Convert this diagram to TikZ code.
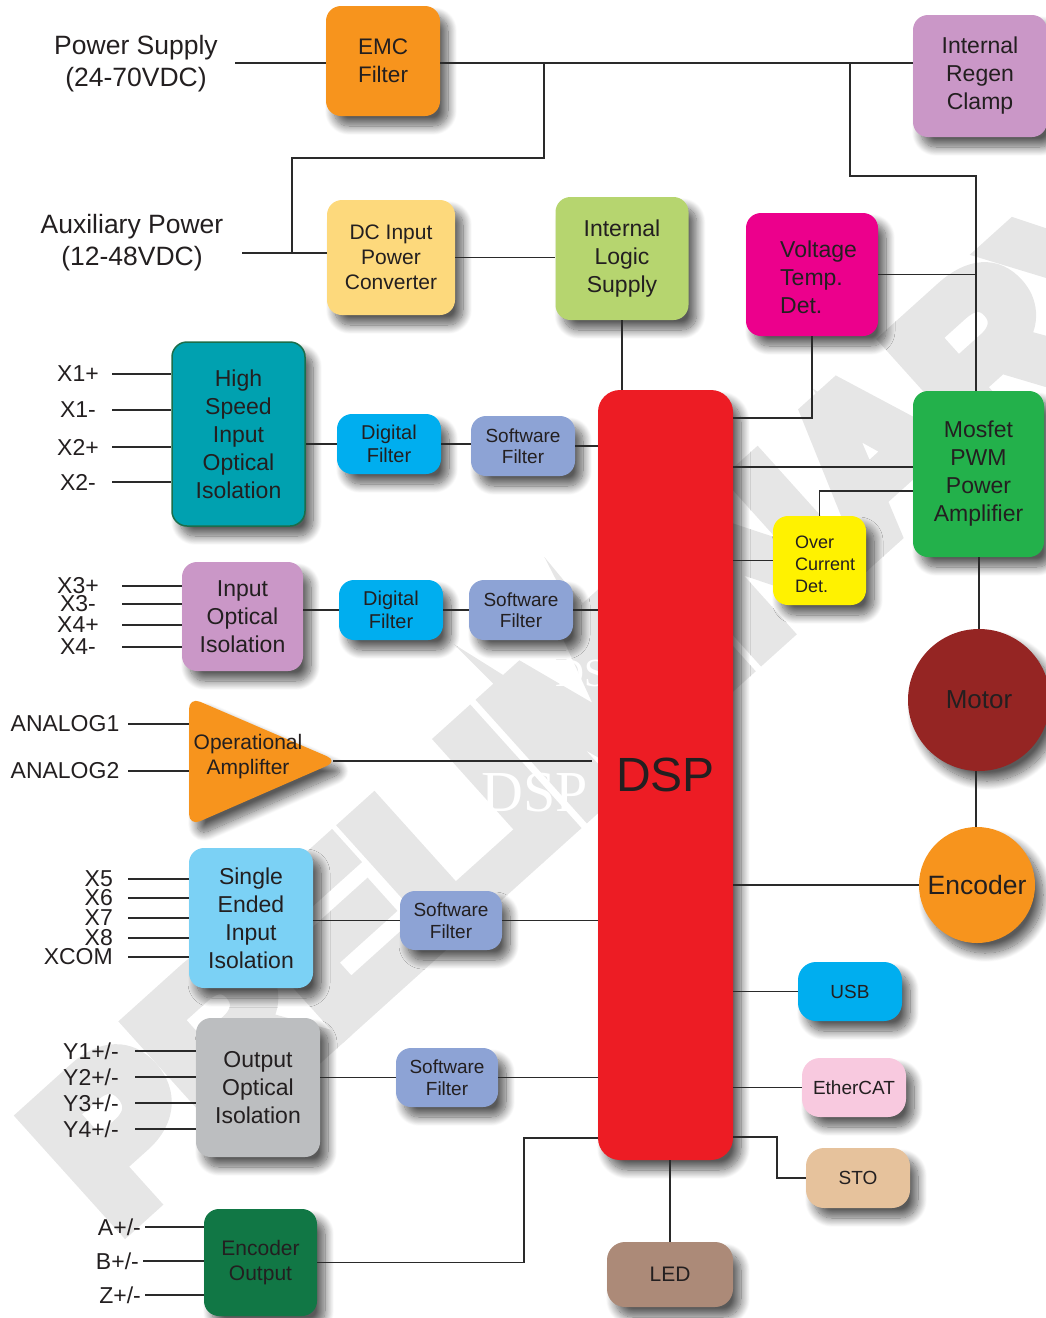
\documentclass[tikz,border=0pt]{standalone}
\usepackage{fontspec}
\setmainfont{Liberation Sans}
\newfontfamily\wmfont{Liberation Serif}
\newfontfamily\wmheavy[FakeBold=10]{Liberation Sans Bold}
\usetikzlibrary{shapes.geometric,shadows.blur}
\definecolor{txt}{HTML}{231F20}
\definecolor{wirec}{HTML}{2A2A2A}
\definecolor{cOrange}{HTML}{F7941D}
\definecolor{cLav}{HTML}{CA97C7}
\definecolor{cDCin}{HTML}{FDD97C}
\definecolor{cLogic}{HTML}{B6D56F}
\definecolor{cMag}{HTML}{EC008C}
\definecolor{cTeal}{HTML}{00A1B0}
\definecolor{cTealB}{HTML}{1B6E4B}
\definecolor{cCyan}{HTML}{00AEEF}
\definecolor{cSoft}{HTML}{8DA3D5}
\definecolor{cRed}{HTML}{ED1C24}
\definecolor{cGreen}{HTML}{23B14B}
\definecolor{cYellow}{HTML}{FFF200}
\definecolor{cMotor}{HTML}{952523}
\definecolor{cSky}{HTML}{7BD1F5}
\definecolor{cPink}{HTML}{F8C9DF}
\definecolor{cGray}{HTML}{BCBEC0}
\definecolor{cTan}{HTML}{E6C29C}
\definecolor{cDkGreen}{HTML}{117745}
\definecolor{cLED}{HTML}{AC8A78}
\definecolor{wm}{HTML}{E6E6E6}
\tikzset{
  shd/.style={blur shadow={shadow xshift=8pt, shadow yshift=-10pt, shadow blur radius=9pt, shadow blur steps=16, shadow opacity=65}},
  box/.style={rectangle, rounded corners=15pt, align=center, text=txt, inner sep=0pt, shd},
  circ/.style={circle, align=center, text=txt, inner sep=0pt, shd},
  wire/.style={draw=wirec, line width=1.8pt},
  lbl/.style={text=txt, inner sep=0pt, font=\fontsize{23}{28}\selectfont},
  t23/.style={font=\fontsize{23}{28}\selectfont},
  t22/.style={font=\fontsize{22.5}{28}\selectfont},
  t21/.style={font=\fontsize{21}{25}\selectfont},
  t20/.style={font=\fontsize{20}{23}\selectfont},
  t19/.style={font=\fontsize{19}{21.5}\selectfont},
  t18/.style={font=\fontsize{18}{22}\selectfont},
  big/.style={font=\fontsize{26.5}{32}\selectfont}
}
\begin{document}
\begin{tikzpicture}[x=1pt,y=-1pt]
\useasboundingbox (0,0) rectangle (1046,1318);
% watermark
\node[rotate=42, text=wm, inner sep=0pt, font=\wmheavy\fontsize{211}{211}\selectfont] (wmark) at (604,696) {PRELIMINARY};
\node[text=white, inner sep=0pt, font=\wmfont\fontsize{40}{40}\selectfont] (wmdsp1) at (592,673) {DSP};
\node[text=white, inner sep=0pt, font=\wmfont\fontsize{58}{58}\selectfont] (wmdsp2) at (535,793) {DSP};

% power labels
\node[text=txt, align=center, big] (ps) at (136,64) {Power Supply\\(24-70VDC)};
\node[text=txt, align=center, big] (aux) at (132,243) {Auxiliary Power\\(12-48VDC)};

% boxes
\node[box, t22, fill=cOrange, minimum width=114pt, minimum height=110pt] (emc) at (383,61) {EMC\\Filter};
\node[box, t23, fill=cLav, minimum width=134pt, minimum height=122pt] (regen) at (980,76) {Internal\\Regen\\Clamp};
\node[box, t21, fill=cDCin, minimum width=128pt, minimum height=115pt] (dcin) at (391,257.5) {DC Input\\Power\\Converter};
\node[box, t23, fill=cLogic, minimum width=133pt, minimum height=123pt] (logic) at (622,258.5) {Internal\\Logic\\Supply};
\node[box, fill=cMag, minimum width=132pt, minimum height=123pt] (volt) at (812,274.5) {};
\node[text=txt, t23, align=left, anchor=west, inner sep=0pt] (voltt) at (780,277) {Voltage\\Temp.\\Det.};
\node[box, t23, fill=cTeal, draw=cTealB, line width=1.5pt, minimum width=133pt, minimum height=184pt] (hs) at (238.5,434) {High\\Speed\\Input\\Optical\\Isolation};
\node[box, t20, fill=cCyan, minimum width=104pt, minimum height=60pt] (df1) at (389,444) {Digital\\Filter};
\node[box, t19, fill=cSoft, minimum width=104pt, minimum height=60pt] (sf1) at (523,446) {Software\\Filter};
\node[box, rounded corners=22pt, fill=cRed, minimum width=135pt, minimum height=770pt, font=\fontsize{48}{48}\selectfont] (dsp) at (665.5,775) {DSP};
\node[box, t23, fill=cGreen, minimum width=131pt, minimum height=166pt] (mosfet) at (978.5,474) {Mosfet\\PWM\\Power\\Amplifier};
\node[box, fill=cYellow, minimum width=93pt, minimum height=89pt] (oc) at (819.5,560.5) {};
\node[text=txt, t18, align=left, anchor=west, inner sep=0pt] (oct) at (795,564) {Over\\Current\\Det.};
\node[box, t23, fill=cLav, minimum width=121pt, minimum height=109pt] (iois) at (242.5,616.5) {Input\\Optical\\Isolation};
\node[box, t20, fill=cCyan, minimum width=104pt, minimum height=60pt] (df2) at (391,610) {Digital\\Filter};
\node[box, t19, fill=cSoft, minimum width=104pt, minimum height=60pt] (sf2) at (521,610) {Software\\Filter};
\node[circ, fill=cMotor, minimum size=142pt, font=\fontsize{26}{30}\selectfont] (motor) at (979,700) {Motor};
% operational amplifier triangle
\path[fill=cOrange, rounded corners=12pt, shd] (189,697) -- (338,761) -- (189,826) -- cycle;
\coordinate (opamp) at (333,761);
\node[text=txt, t21, align=center, inner sep=0pt] (opampt) at (248,757) {Operational\\Amplifter};
\node[circ, fill=cOrange, minimum size=116pt, font=\fontsize{26.5}{30}\selectfont] (encoder) at (977,885) {Encoder};
\node[box, t23, fill=cSky, minimum width=124pt, minimum height=140pt] (seii) at (251,918) {Single\\Ended\\Input\\Isolation};
\node[box, t19, fill=cSoft, minimum width=102pt, minimum height=59pt] (sf3) at (451,920.5) {Software\\Filter};
\node[box, rounded corners=18pt, t19, fill=cCyan, minimum width=104pt, minimum height=59pt] (usb) at (850,991.5) {USB};
\node[box, rounded corners=18pt, t19, fill=cPink, minimum width=104pt, minimum height=59pt] (ecat) at (854,1087.5) {EtherCAT};
\node[box, t23, fill=cGray, minimum width=124pt, minimum height=139pt] (ooi) at (258,1087.5) {Output\\Optical\\Isolation};
\node[box, t19, fill=cSoft, minimum width=102pt, minimum height=59pt] (sf4) at (447,1077.5) {Software\\Filter};
\node[box, rounded corners=18pt, t19, fill=cTan, minimum width=104pt, minimum height=60pt] (sto) at (858,1178) {STO};
\node[box, t21, fill=cDkGreen, minimum width=113pt, minimum height=107pt] (encout) at (260.5,1262.5) {Encoder\\Output};
\node[box, rounded corners=18pt, font=\fontsize{21}{25}\selectfont, fill=cLED, minimum width=126pt, minimum height=65pt] (led) at (670,1274.5) {LED};

% input labels and wires
\foreach \n/\t/\y in {x1p/X1+/374, x1m/X1-/410, x2p/X2+/447, x2m/X2-/482}{
  \node[lbl] (\n) at (78,\y) {\t};
  \coordinate (\n-e) at (112,\y);
  \draw[wire] (\n-e) -- (hs.west |- \n-e);
}
\foreach \n/\t/\y in {x3p/X3+/586, x3m/X3-/604, x4p/X4+/625, x4m/X4-/647}{
  \node[lbl] (\n) at (78,\y) {\t};
  \coordinate (\n-e) at (122,\y);
  \draw[wire] (\n-e) -- (iois.west |- \n-e);
}
\foreach \n/\t/\y in {an1/ANALOG1/724, an2/ANALOG2/771}{
  \node[lbl] (\n) at (65,\y) {\t};
  \coordinate (\n-e) at (128,\y);
  \draw[wire] (\n-e) -- (189,\y);
}
\foreach \n/\t/\y in {x5/X5/879, x6/X6/898, x7/X7/918, x8/X8/938, xc/XCOM/957}{
  \node[lbl, anchor=east] (\n) at (113,\y) {\t};
  \coordinate (\n-e) at (128,\y);
  \draw[wire] (\n-e) -- (seii.west |- \n-e);
}
\foreach \n/\t/\y in {y1/1/1051, y2/2/1077, y3/3/1103, y4/4/1129}{
  \node[lbl, anchor=east] (\n) at (119,\y) {Y\t+/-};
  \coordinate (\n-e) at (135,\y);
  \draw[wire] (\n-e) -- (ooi.west |- \n-e);
}
\foreach \n/\t/\y/\s in {ea/A/1227/145, eb/B/1261/143, ez/Z/1295/145}{
  \node[lbl, anchor=east] (\n) at (\s-4,\y) {\t+/-};
  \coordinate (\n-e) at (\s,\y);
  \draw[wire] (\n-e) -- (encout.west |- \n-e);
}

% power wiring
\coordinate (psl) at (235,63);
\coordinate (auxl) at (242,253);
\coordinate (j1) at (544,63);
\coordinate (j2) at (292,158);
\coordinate (j3) at (850,63);
\coordinate (j4) at (976,176);
\draw[wire] (psl) -- (emc.west |- psl);
\draw[wire] (emc.east |- psl) -- (regen.west |- psl);
\draw[wire] (j1) |- (j2) -- (j2 |- auxl);
\draw[wire] (auxl) -- (dcin.west |- auxl);
\draw[wire] (j3) |- (j4) -- (j4 |- mosfet.north);
\draw[wire] (volt.east) -- (volt.east -| j4);
\draw[wire] (dcin.east) -- (logic.west |- dcin.east);
\draw[wire] (logic.south) -- (logic.south |- dsp.north);
\draw[wire] (volt.south) |- (dsp.east |- 0,418);
\draw[wire] (dsp.east |- 0,467) -- (mosfet.west |- 0,467);
\draw[wire] (mosfet.west |- 0,491) -| (oc.north);
\draw[wire] (oc.west) -- (dsp.east |- oc.west);
\draw[wire] (mosfet.south -| motor.north) -- (motor.north);
\draw[wire] (motor.south -| 976,0) -- (encoder.north -| 976,0);
\draw[wire] (encoder.west) -- (dsp.east |- encoder.west);
\draw[wire] (usb.west) -- (dsp.east |- usb.west);
\draw[wire] (ecat.west) -- (dsp.east |- ecat.west);
\coordinate (stoj) at (777,1137);
\draw[wire] (dsp.east |- stoj) -| (stoj |- sto.west) -- (sto.west);
\draw[wire] (dsp.south -| led.north) -- (led.north);
\coordinate (eoj) at (524,1138);
\draw[wire] (encout.east) -| (eoj) -- (dsp.west |- eoj);

% signal chains
\draw[wire] (hs.east |- df1.west) -- (df1.west);
\draw[wire] (df1.east) -- (sf1.west |- df1.east);
\draw[wire] (sf1.east) -- (dsp.west |- sf1.east);
\draw[wire] (iois.east |- df2.west) -- (df2.west);
\draw[wire] (df2.east) -- (sf2.west);
\draw[wire] (sf2.east) -- (dsp.west |- sf2.east);
\draw[wire] (opamp) -- ([xshift=-6pt]dsp.west |- opamp);
\draw[wire] (seii.east |- sf3.west) -- (sf3.west);
\draw[wire] (sf3.east) -- (dsp.west |- sf3.east);
\draw[wire] (ooi.east |- sf4.west) -- (sf4.west);
\draw[wire] (sf4.east) -- (dsp.west |- sf4.east);
\end{tikzpicture}
\end{document}
